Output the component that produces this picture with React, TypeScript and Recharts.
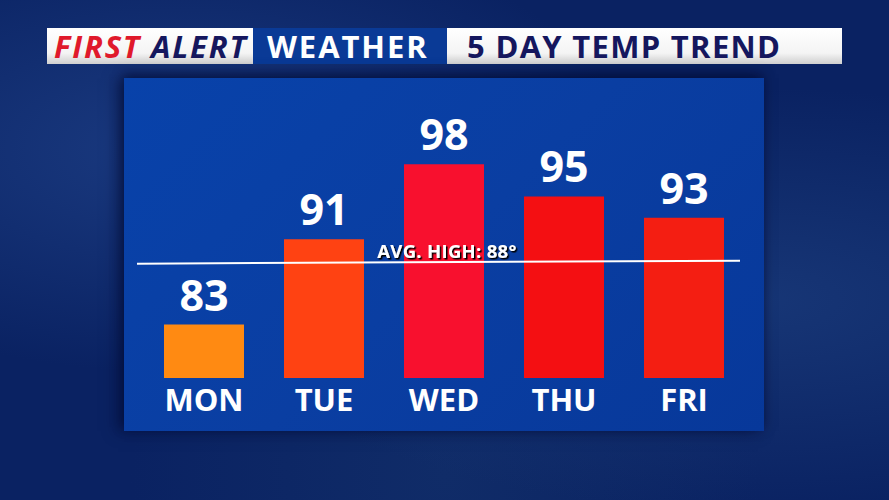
import React from 'react';
import { BarChart, Bar, XAxis, YAxis, ReferenceLine, LabelList, Cell } from 'recharts';

const days = ['MON', 'TUE', 'WED', 'THU', 'FRI'];
const highs = [83, 91, 98, 95, 93];
const barColors = ['#FF8A12', '#FF4212', '#F8102E', '#F40F12', '#F41E12'];
const avgHigh = 88;
const avgLinePosition = 88.8; // where the line sits in the picture
const yDomain: [number, number] = [78, 100];

const data = days.map((d, i) => ({ day: d, high: highs[i] }));

const FONT = '"Open Sans", "DejaVu Sans", sans-serif';

const DayTick = (props: any) => {
  const { x, payload } = props;
  return (
    <text x={x} y={411} textAnchor="middle" fill="#fff" fontFamily={FONT} fontWeight={700} fontSize={31}>
      {payload.value}
    </text>
  );
};

const AvgLine = (props: any) => {
  const { x1, x2, y1, y2 } = props;
  return (
    <g>
      <defs>
        <filter id="avgShadow" x="-10%" y="-50%" width="120%" height="200%">
          <feDropShadow dx="1.5" dy="1.5" stdDeviation="0.6" floodColor="#000" floodOpacity="1" />
        </filter>
      </defs>
      <line x1={x1 - 7} y1={y1 + 1} x2={x2 - 4} y2={y2 - 2} stroke="#fff" strokeWidth={2} />
      <text
        x={447}
        y={y1 - 5}
        textAnchor="middle"
        fill="#fff"
        fontFamily={FONT}
        fontWeight={700}
        fontSize={18.5}
        letterSpacing={0.3}
        filter="url(#avgShadow)"
      >
        {`AVG. HIGH: ${avgHigh}°`}
      </text>
    </g>
  );
};

export default function App() {
  return (
    <div
      style={{
        position: 'absolute',
        left: 0,
        top: 0,
        width: 889,
        height: 500,
        overflow: 'hidden',
        fontFamily: FONT,
        background:
          'radial-gradient(ellipse at 20% 30%, #1a3a80 0%, rgba(20,50,110,0) 45%), radial-gradient(ellipse at 85% 60%, #173676 0%, rgba(20,50,110,0) 50%), radial-gradient(ellipse at 50% 95%, #102c68 0%, rgba(20,50,110,0) 50%), #0a2262',
      }}
    >
      {/* header */}
      <div style={{ position: 'absolute', left: 47, top: 28, width: 206, height: 36, background: 'linear-gradient(#ffffff 0%, #f4f4f4 70%, #cfcfcf 100%)' }} />
      <div style={{ position: 'absolute', left: 253, top: 28, width: 194, height: 36, background: '#0a3a96' }} />
      <div style={{ position: 'absolute', left: 447, top: 28, width: 395, height: 36, background: 'linear-gradient(#ffffff 0%, #f4f4f4 70%, #cfcfcf 100%)' }} />
      <div style={{ position: 'absolute', left: 54, top: 26, height: 40, lineHeight: '40px', fontSize: 31, fontWeight: 700, fontStyle: 'italic', letterSpacing: 1.8, whiteSpace: 'nowrap' }}>
        <span style={{ color: '#E0192B' }}>FIRST </span>
        <span style={{ color: '#15175E' }}>ALERT</span>
      </div>
      <div style={{ position: 'absolute', left: 267, top: 26, height: 40, lineHeight: '40px', fontSize: 31, fontWeight: 700, color: '#fff', letterSpacing: 1.9, whiteSpace: 'nowrap' }}>
        WEATHER
      </div>
      <div style={{ position: 'absolute', left: 467, top: 26, height: 40, lineHeight: '40px', fontSize: 31, fontWeight: 700, color: '#15175E', letterSpacing: 1.3, whiteSpace: 'nowrap' }}>
        5 DAY TEMP TREND
      </div>
      {/* panel */}
      <div
        style={{
          position: 'absolute',
          left: 124,
          top: 78,
          width: 640,
          height: 353,
          background: 'linear-gradient(135deg, #0842aa 0%, #0a3ea2 50%, #07389a 100%)',
          boxShadow: '-6px 0 14px rgba(0,10,50,0.6), 0 -4px 10px rgba(0,10,50,0.5)',
        }}
      />
      <div style={{ position: 'absolute', left: 0, top: 0 }}>
        <BarChart width={889} height={500} data={data} margin={{ top: 143, right: 145, bottom: 82, left: 144 }} barSize={80}>
          <YAxis hide domain={yDomain} allowDataOverflow />
          <XAxis dataKey="day" height={40} axisLine={false} tickLine={false} tick={<DayTick />} interval={0} />
          <ReferenceLine y={avgLinePosition} shape={<AvgLine />} ifOverflow="visible" />
          <Bar dataKey="high" isAnimationActive={false}>
            {data.map((d, i) => (
              <Cell key={d.day} fill={barColors[i]} />
            ))}
            <LabelList dataKey="high" position="top" offset={14} fill="#fff" fontFamily={FONT} fontWeight={700} fontSize={43} />
          </Bar>
        </BarChart>
      </div>
    </div>
  );
}
